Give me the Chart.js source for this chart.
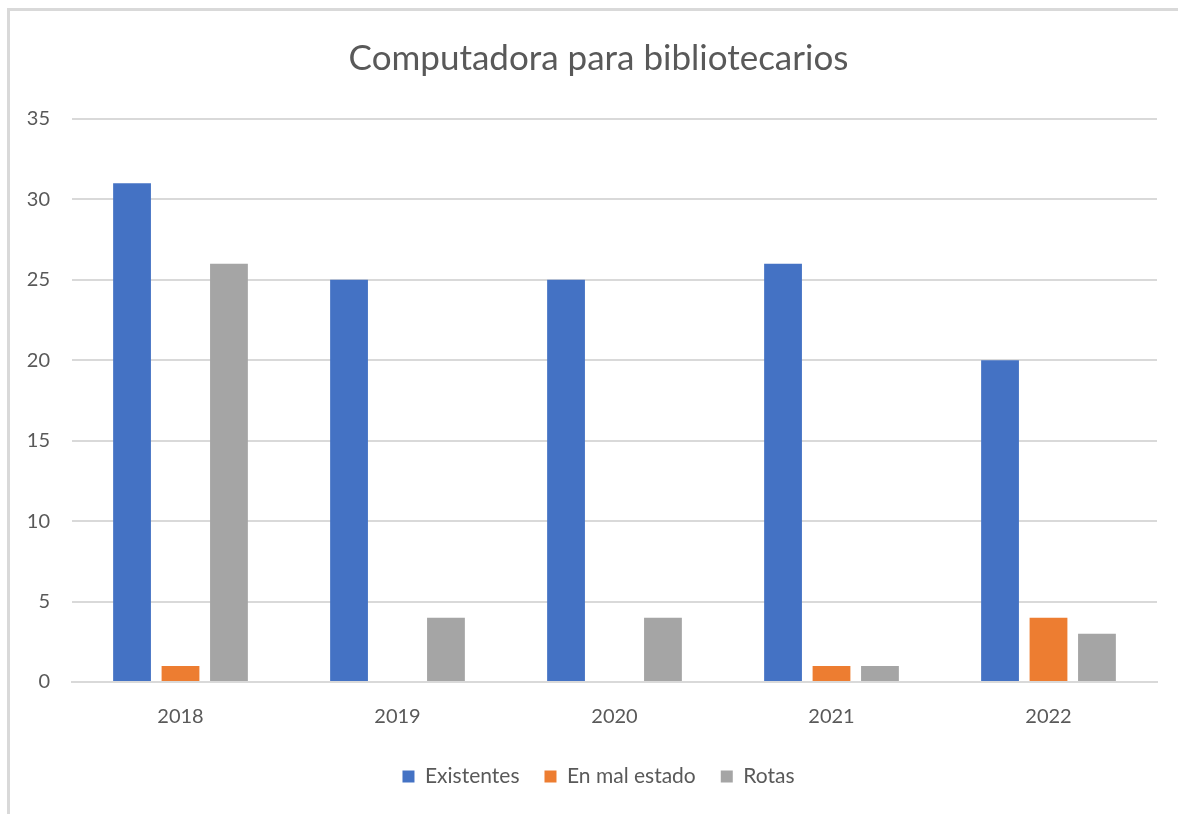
<!DOCTYPE html>
<html>
<head>
<meta charset="utf-8">
<script src="https://cdn.jsdelivr.net/npm/chart.js@4"></script>
<style>
  html, body { margin: 0; padding: 0; background: #fff; }
  #wrap { width: 1178px; height: 814px; }
</style>
</head>
<body>
<div id="wrap"><canvas id="c" width="1178" height="814"></canvas></div>
<script>
const categories = ["2018", "2019", "2020", "2021", "2022"];
const existentes = [31, 25, 25, 26, 20];
const enMalEstado = [1, 0, 0, 1, 4];
const rotas = [26, 4, 4, 1, 3];
const seriesNames = ["Existentes", "En mal estado", "Rotas"];
const titleText = "Computadora para bibliotecarios";

const FONT = "Lato, 'Open Sans', sans-serif";
const TXT = "#595959";

const borderPlugin = {
  id: 'frame',
  beforeDraw(chart) {
    const ctx = chart.ctx;
    ctx.save();
    ctx.fillStyle = '#fff';
    ctx.fillRect(0, 0, chart.width, chart.height);
    ctx.strokeStyle = '#d9d9d9';
    ctx.lineWidth = 3;
    ctx.beginPath();
    ctx.moveTo(8.5, chart.height);
    ctx.lineTo(8.5, 9.5);
    ctx.lineTo(chart.width, 9.5);
    ctx.stroke();
    ctx.restore();
  }
};

// nudge title and legend slightly right, like the reference
const shiftPlugin = {
  id: 'shift',
  afterLayout(chart) {
    const dx = 9;
    [chart.titleBlock, chart.legend].forEach(b => {
      if (b) { b.left += dx; b.right += dx; }
    });
  }
};

new Chart(document.getElementById('c'), {
  type: 'bar',
  data: {
    labels: categories,
    datasets: [
      { label: seriesNames[0], data: existentes, backgroundColor: '#4472C4' },
      { label: seriesNames[1], data: enMalEstado, backgroundColor: '#ED7D31' },
      { label: seriesNames[2], data: rotas, backgroundColor: '#A5A5A5' }
    ]
  },
  options: {
    responsive: false,
    animation: false,
    devicePixelRatio: 1,
    layout: { padding: { left: 22, right: 21, top: 38, bottom: 17 } },
    datasets: { bar: { categoryPercentage: 0.67, barPercentage: 0.78 } },
    plugins: {
      title: {
        display: true,
        text: titleText,
        color: TXT,
        font: { family: FONT, size: 35, weight: 'normal' },
        padding: { top: 0, bottom: 39 }
      },
      legend: {
        position: 'bottom',
        labels: {
          color: TXT,
          font: { family: FONT, size: 21 },
          boxWidth: 12,
          boxHeight: 12,
          padding: 25
        }
      },
      tooltip: { enabled: false }
    },
    scales: {
      x: {
        afterFit(scale) { scale.height = 59; },
        grid: { display: false, drawTicks: false },
        border: { display: true, color: '#d9d9d9', width: 2 },
        ticks: { color: TXT, font: { family: FONT, size: 20 }, padding: 23 }
      },
      y: {
        min: 0, max: 35,
        afterFit(scale) { scale.width = 50; },
        grid: { color: '#d9d9d9', lineWidth: 2, drawTicks: false },
        border: { display: false },
        ticks: { stepSize: 5, color: TXT, font: { family: FONT, size: 20 }, padding: 22 }
      }
    }
  },
  plugins: [borderPlugin, shiftPlugin]
});
</script>
</body>
</html>
